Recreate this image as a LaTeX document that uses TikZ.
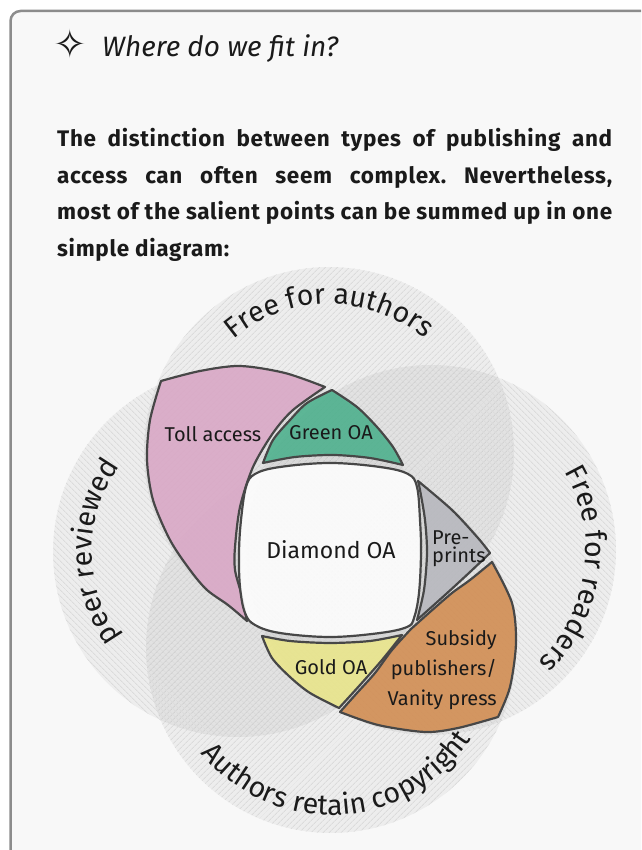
\documentclass[tikz,border=0pt]{standalone}
\usepackage{fontspec}
\setmainfont{Fira Sans}
\newfontfamily\parafont[LetterSpace=3]{Fira Sans}
\newfontfamily\symbolfont{DejaVu Sans}
\usetikzlibrary{decorations.text, patterns.meta}
\definecolor{cardFill}{HTML}{F8F8F8}
\definecolor{cardLine}{HTML}{8C8C8C}
\definecolor{regLine}{HTML}{474747}
\definecolor{tollPink}{HTML}{DAA7C6}
\definecolor{greenOA}{HTML}{4BB08C}
\definecolor{prePrint}{HTML}{B7B8BE}
\definecolor{vanityOrange}{HTML}{D28C50}
\definecolor{goldOA}{HTML}{EAE68A}
\definecolor{inkText}{HTML}{1A1A1A}
\frenchspacing

\begin{document}
\begin{tikzpicture}[
    x=1pt, y=1pt,
    setfill/.style={fill=black, fill opacity=0.045},
    hatch/.style={pattern={Lines[angle=#1, distance=4pt, line width=1pt]}, pattern color=black!14},
    region/.style={draw=regLine, line width=2.2pt, fill=#1, fill opacity=0.88, line join=round},
    lbl/.style={font=\fontsize{20}{18}\selectfont, text=inkText, inner sep=0pt},
    para/.style={font=\parafont\bfseries\fontsize{22.5}{24}\selectfont, text=inkText, inner sep=0pt, anchor=base west},
    ring/.style={decorate, decoration={text along path, text align=center,
                 text={|\fontsize{28.5}{30}\selectfont\color{inkText}|#1}}},
  ]
    \useasboundingbox (0,0) rectangle (641,850);
    \clip (0,0) rectangle (641,850);

    % card
    \fill[white] (0,0) rectangle (641,850);
    \draw[cardLine, line width=2.5pt, fill=cardFill, rounded corners=10pt] (10.5,839) rectangle (700,-40);

    % heading
    \node[font=\symbolfont\fontsize{40}{40}\selectfont, text=inkText, inner sep=0pt] (star) at (70,806) {✧};
    \node[font=\itshape\fontsize{28}{32}\selectfont, text=inkText, inner sep=0pt, anchor=base west] (head) at (102,793) {Where do we fit in?};

    % intro text
    \node[para] (line1) at (57,703) {\makebox[555pt][s]{The distinction between types of publishing and}};
    \node[para] (line2) at (57,666.7) {\makebox[555pt][s]{access can often seem complex. Nevertheless,}};
    \node[para] (line3) at (57,630) {\makebox[555pt][s]{most of the salient points can be summed up in one}};
    \node[para] (line4) at (57,593.3) {simple diagram:};

    % the four sets
    \coordinate (authors) at (329,398);
    \coordinate (readers) at (431,300);
    \coordinate (copyright) at (331,202);
    \coordinate (review) at (238,298);
    \foreach \c/\a in {authors/45, readers/-45, copyright/45, review/-45} {
      \fill[setfill] (\c) circle[radius=185];
      \fill[hatch=\a] (\c) circle[radius=185];
    }

    % regions
    \draw[region=tollPink]
      plot[smooth] coordinates {(161,469) (200,479) (240,484) (285,477) (325,463)}
      -- plot[smooth] coordinates {(325,463) (293,440) (273,417) (253,383) (240,343) (235,303) (235,280) (241,257) (247,229)}
      -- plot[smooth] coordinates {(247,229) (228,245) (207,260) (190,280) (170,310) (153,350) (147,390) (150,430) (161,469)}
      -- cycle;
    \draw[region=greenOA]
      plot[smooth] coordinates {(332,460) (307,447) (290,430) (273,410) (263,387)}
      -- plot[smooth] coordinates {(263,387) (295,393) (333,395) (370,392) (403,385)}
      -- plot[smooth] coordinates {(403,385) (393,403) (377,423) (357,443) (332,460)}
      -- cycle;
    \draw[region=white] plot[smooth cycle, tension=0.6] coordinates {
      (255,376) (280,383) (330,387) (380,383) (408,376) (417,363) (420,330) (421,297)
      (419,257) (414,232) (407,223) (380,217) (330,213) (280,217) (255,225) (245,237)
      (240,263) (239,297) (241,330) (246,363)};
    \draw[region=prePrint]
      plot[smooth] coordinates {(418,369) (452,340) (478,312) (490,297)}
      -- plot[smooth] coordinates {(490,297) (470,278) (445,255) (417,230)}
      -- plot[smooth] coordinates {(417,230) (424,260) (427,297) (425,330) (420,360) (418,369)}
      -- cycle;
    \draw[region=vanityOrange]
      plot[smooth] coordinates {(492,288) (470,270) (452,257) (430,238) (411,221)}
      -- plot[smooth] coordinates {(411,221) (392,200) (375,177) (357,157) (340,138)}
      -- plot[smooth] coordinates {(340,138) (378,125) (425,118) (458,122) (498,133)}
      -- plot[smooth] coordinates {(498,133) (510,163) (516,207) (512,247) (492,288)}
      -- cycle;
    \draw[region=goldOA]
      plot[smooth] coordinates {(262,214) (290,209) (330,207) (370,209) (402,215)}
      -- plot[smooth] coordinates {(402,215) (382,190) (360,165) (339,142)}
      -- plot[smooth] coordinates {(339,142) (310,157) (290,173) (272,192) (262,214)}
      -- cycle;

    % region labels
    \node[lbl] (toll) at (213,416) {Toll access};
    \node[lbl] (green) at (331,417) {Green OA};
    \node[lbl, font=\fontsize{23}{26}\selectfont] (diamond) at (331,300) {Diamond OA};
    \node[lbl, anchor=west, align=left] (pre) at (432,301) {Pre-\\prints};
    \node[lbl, anchor=east, align=right, font=\fontsize{20}{30}\selectfont] (vanity) at (497,180) {Subsidy\\publishers/\\Vanity press};
    \node[lbl] (gold) at (331,183) {Gold OA};

    % set labels round the rims
    \path[ring={Free for authors}] (authors) ++(135:148) arc[start angle=135, end angle=45, radius=148];
    \path[ring={Free for readers}] (readers) ++(30:155) arc[start angle=30, end angle=-46, radius=155];
    \path[ring={peer reviewed}] (review) ++(215:146) arc[start angle=215, end angle=145, radius=146];
    \path[ring={Authors retain copyright}] (copyright) ++(215:167) arc[start angle=215, end angle=331, radius=167];
  \end{tikzpicture}
\end{document}
